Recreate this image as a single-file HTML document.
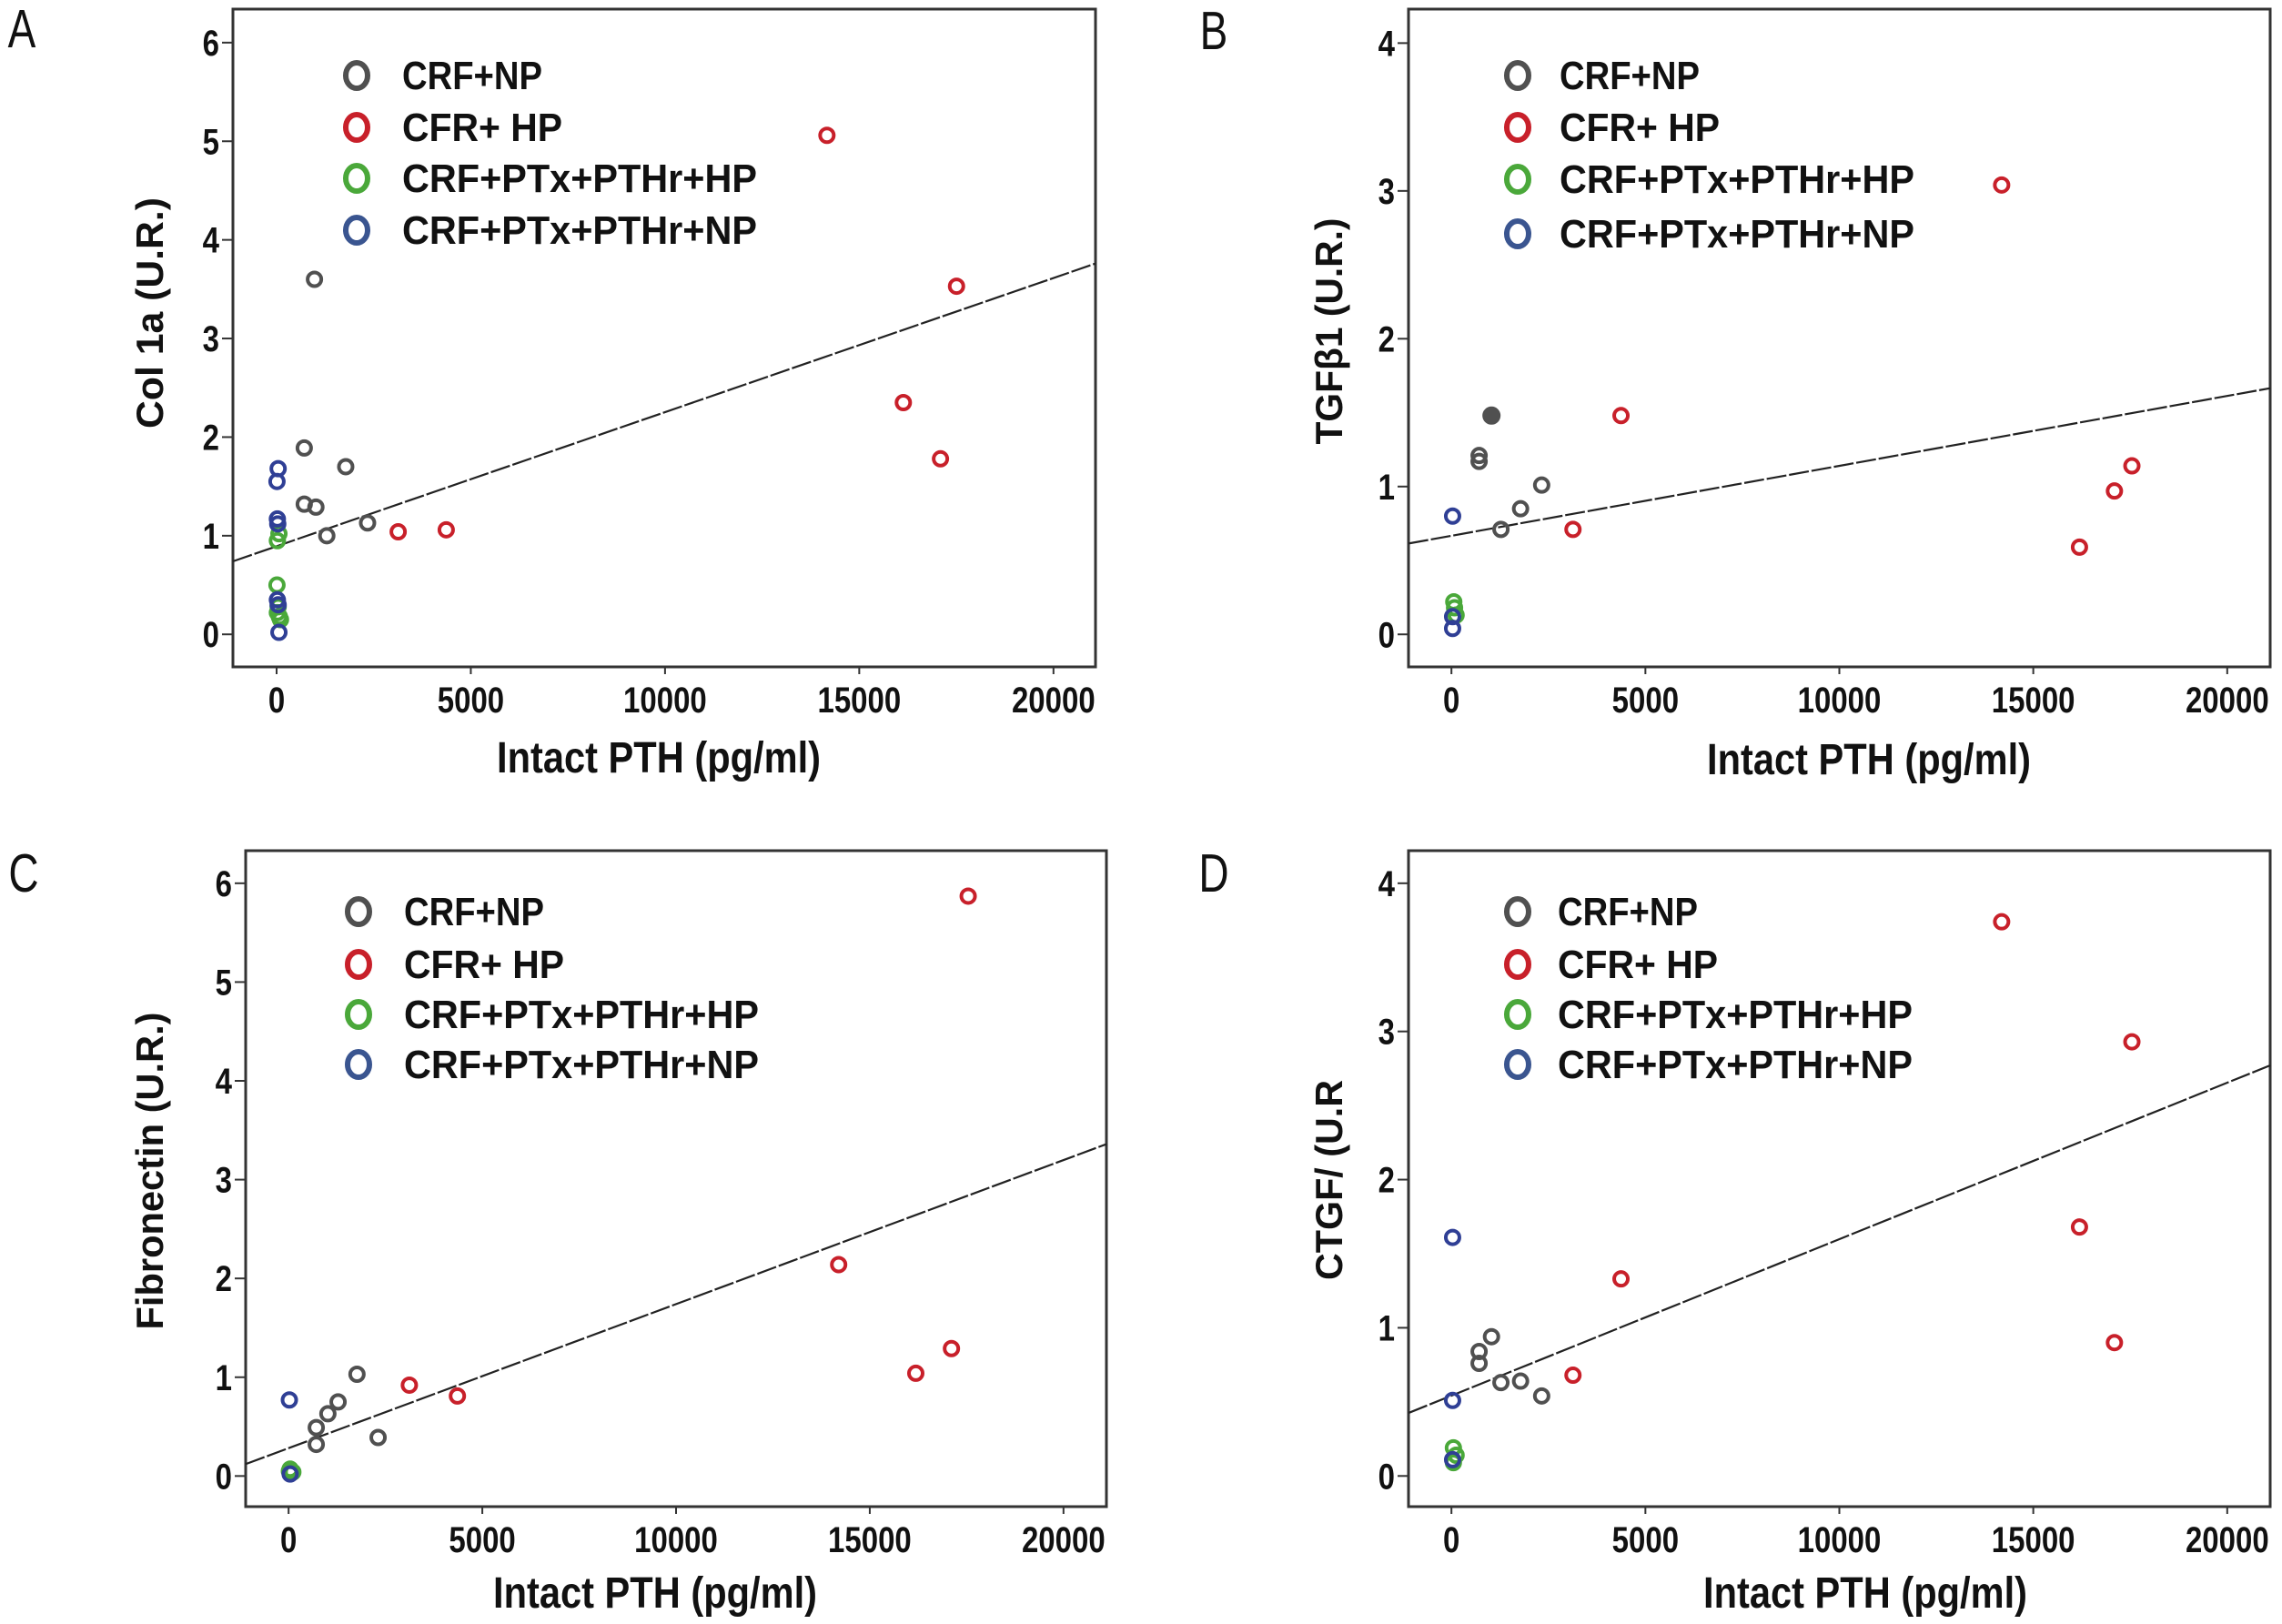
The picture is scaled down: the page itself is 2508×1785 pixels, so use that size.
<!DOCTYPE html>
<html><head><meta charset="utf-8"><style>
html,body{margin:0;padding:0;background:#fff;}
svg{display:block;}
text{font-family:"Liberation Sans",Arial,sans-serif;}
</style></head><body>
<svg id="fig" width="2508" height="1785" viewBox="0 0 2508 1785" xmlns="http://www.w3.org/2000/svg"></svg>
<script>
// ---- Data ----
const xTicks = [0, 5000, 10000, 15000, 20000];
const yTicksA = [0, 1, 2, 3, 4, 5, 6];
const yTicksB = [0, 1, 2, 3, 4];
const yTicksC = [0, 1, 2, 3, 4, 5, 6];
const yTicksD = [0, 1, 2, 3, 4];
const groupNames = ["CRF+NP", "CFR+ HP", "CRF+PTx+PTHr+HP", "CRF+PTx+PTHr+NP"];

const aGray = [[975,3.60],[712,1.89],[1780,1.70],[712,1.32],[1012,1.29],[2342,1.13],[1293,1.00]];
const aRed = [[14168,5.06],[17504,3.53],[16135,2.35],[17091,1.78],[3130,1.04],[4367,1.06]];
const aGreen = [[60,1.02],[20,0.95],[10,0.50],[40,0.28],[20,0.22],[70,0.18],[100,0.15]];
const aBlue = [[40,1.68],[10,1.55],[20,1.17],[30,1.12],[20,0.35],[40,0.30],[60,0.02]];
const aFit = [0.893, 0.000136];

const bGray = [[713,1.21],[713,1.17],[2326,1.01],[1782,0.85],[1276,0.71]];
const bGrayFilled = [[1032,1.48]];
const bRed = [[14184,3.04],[4371,1.48],[17542,1.14],[17092,0.97],[3133,0.71],[16191,0.59]];
const bGreen = [[60,0.22],[80,0.18],[120,0.13]];
const bBlue = [[30,0.80],[30,0.12],[30,0.04]];
const bFit = [0.667, 0.0000473];

const cGray = [[1765,1.03],[1277,0.75],[1014,0.63],[714,0.49],[714,0.32],[2310,0.39]];
const cRed = [[17540,5.87],[14197,2.14],[17108,1.29],[16188,1.04],[3117,0.92],[4357,0.81]];
const cGreen = [[40,0.07],[110,0.04],[20,0.05]];
const cBlue = [[20,0.77],[40,0.02]];
const cFit = [0.282, 0.0001458];

const dGray = [[1032,0.94],[713,0.84],[713,0.76],[1276,0.63],[1782,0.64],[2326,0.54]];
const dRed = [[14184,3.74],[17542,2.93],[16191,1.68],[4371,1.33],[17092,0.90],[3133,0.68]];
const dGreen = [[50,0.19],[120,0.14],[50,0.09]];
const dBlue = [[30,1.61],[30,0.51],[30,0.11]];
const dFit = [0.542, 0.0001056];

const COLORS = ["#505050", "#c8202a", "#4aa83a", "#2f3f95"];
const LEGCOLORS = ["#505050", "#c8202a", "#4aa83a", "#3a5590"];

const svg = document.getElementById('fig');
const NS = "http://www.w3.org/2000/svg";
function mk(tag, attrs, parent) {
  const e = document.createElementNS(NS, tag);
  for (const k in attrs) e.setAttribute(k, attrs[k]);
  (parent || svg).appendChild(e);
  return e;
}

const panels = [
  {key:"a", letter:"A", lx:24, ly:52, L:256, R:1204, T:10, B:733, xd:[-1124,21082], yd:[-0.33,6.34],
   yt:yTicksA, ytitle:"Col 1a  (U.R.)", ytx:164, yty:344, ytl:254, xtx:724, xty:849,
   legM:392, legT:442, legY:[83,140,196,253], series:[aGray,aRed,aGreen,aBlue], filled:[], fit:aFit},
  {key:"b", letter:"B", lx:1334, ly:54, L:1548, R:2495, T:10, B:733, xd:[-1107,21107], yd:[-0.22,4.23],
   yt:yTicksB, ytitle:"TGFβ1 (U.R.)", ytx:1460, yty:364, ytl:249, xtx:2054, xty:851,
   legM:1668, legT:1714, legY:[83,140,197,257], series:[bGray,bRed,bGreen,bBlue], filled:bGrayFilled, fit:bFit},
  {key:"c", letter:"C", lx:26, ly:980, L:270, R:1216, T:935, B:1656, xd:[-1108,21108], yd:[-0.31,6.33],
   yt:yTicksC, ytitle:"Fibronectin (U.R.)", ytx:164, yty:1287, ytl:349, xtx:720, xty:1767,
   legM:394, legT:444, legY:[1002,1060,1115,1170], series:[cGray,cRed,cGreen,cBlue], filled:[], fit:cFit},
  {key:"d", letter:"D", lx:1334, ly:980, L:1548, R:2495, T:935, B:1656, xd:[-1107,21107], yd:[-0.207,4.22],
   yt:yTicksD, ytitle:"CTGF/ (U.R", ytx:1460, yty:1297, ytl:220, xtx:2050, xty:1767,
   legM:1668, legT:1712, legY:[1002,1060,1115,1170], series:[dGray,dRed,dGreen,dBlue], filled:[], fit:dFit}
];

const seriesKeys = ["crf-np","cfr-hp","crf-ptx-pthr-hp","crf-ptx-pthr-np"];

panels.forEach(p => {
  const g = mk('g', {});
  
  
  const sx = v => p.L + (v - p.xd[0]) / (p.xd[1] - p.xd[0]) * (p.R - p.L);
  const sy = v => p.B - (v - p.yd[0]) / (p.yd[1] - p.yd[0]) * (p.B - p.T);

  const letter = mk('text', {transform:`translate(${p.lx},${p.ly}) scale(1,1.3)`, 'font-size':46, 'text-anchor':'middle', fill:'#111'}, g);
  letter.textContent = p.letter;
  
  

  const frame = mk('rect', {x:p.L, y:p.T, width:p.R-p.L, height:p.B-p.T, fill:'none', stroke:'#333', 'stroke-width':3}, g);
  
  

  xTicks.forEach(t => {
    const x = sx(t);
    const tk = mk('line', {x1:x, x2:x, y1:p.B, y2:p.B+8, stroke:'#333', 'stroke-width':2}, g);
    
    
    const lb = mk('text', {transform:`translate(${x},${p.B+50}) scale(1,1.2)`, 'font-size':33, 'font-weight':'bold', 'text-anchor':'middle', fill:'#111'}, g);
    lb.textContent = t;
    
    
  });
  p.yt.forEach(t => {
    const y = sy(t);
    const tk = mk('line', {x1:p.L-12, x2:p.L, y1:y, y2:y, stroke:'#333', 'stroke-width':2}, g);
    
    
    const lb = mk('text', {transform:`translate(${p.L-15},${y+14}) scale(1,1.2)`, 'font-size':33, 'font-weight':'bold', 'text-anchor':'end', fill:'#111'}, g);
    lb.textContent = t;
    
    
  });

  const xt = mk('text', {transform:`translate(${p.xtx},${p.xty}) scale(1,1.2)`, 'font-size':40, 'font-weight':'bold', 'text-anchor':'middle', textLength:356, lengthAdjust:'spacingAndGlyphs', fill:'#111'}, g);
  xt.textContent = "Intact PTH (pg/ml)";
  
  

  const yt = mk('text', {transform:`translate(${p.ytx+15},${p.yty}) rotate(-90)`, 'font-size':42, 'font-weight':'bold', 'text-anchor':'middle', textLength:p.ytl, lengthAdjust:'spacingAndGlyphs', fill:'#111'}, g);
  yt.textContent = p.ytitle;
  
  

  const x0 = p.xd[0], x1 = p.xd[1];
  const fl = mk('line', {x1:sx(x0), y1:sy(p.fit[0]+p.fit[1]*x0), x2:sx(x1), y2:sy(p.fit[0]+p.fit[1]*x1), stroke:'#222', 'stroke-width':2.2, 'stroke-dasharray':'22 3'}, g);
  
  

  p.series.forEach((s, i) => {
    s.forEach(pt => {
      const c = mk('circle', {cx:sx(pt[0]), cy:sy(pt[1]), r:7.5, fill:'none', stroke:COLORS[i], 'stroke-width':4}, g);
      
      
    });
  });
  p.filled.forEach(pt => {
    const c = mk('circle', {cx:sx(pt[0]), cy:sy(pt[1]), r:9, fill:COLORS[0], stroke:COLORS[0], 'stroke-width':2}, g);
    
    
  });

  groupNames.forEach((name, i) => {
    const y = p.legY[i];
    const m = mk('ellipse', {cx:p.legM, cy:y, rx:12, ry:14, fill:'none', stroke:LEGCOLORS[i], 'stroke-width':6}, g);
    
    
    const lens = [154, 176, 390, 390];
    const t = mk('text', {transform:`translate(${p.legT},${y+15}) scale(1,1.2)`, 'font-size':36, 'font-weight':'bold', textLength:lens[i], lengthAdjust:'spacingAndGlyphs', fill:'#111'}, g);
    t.textContent = name;
    
    
  });
});
</script>
</body></html>
